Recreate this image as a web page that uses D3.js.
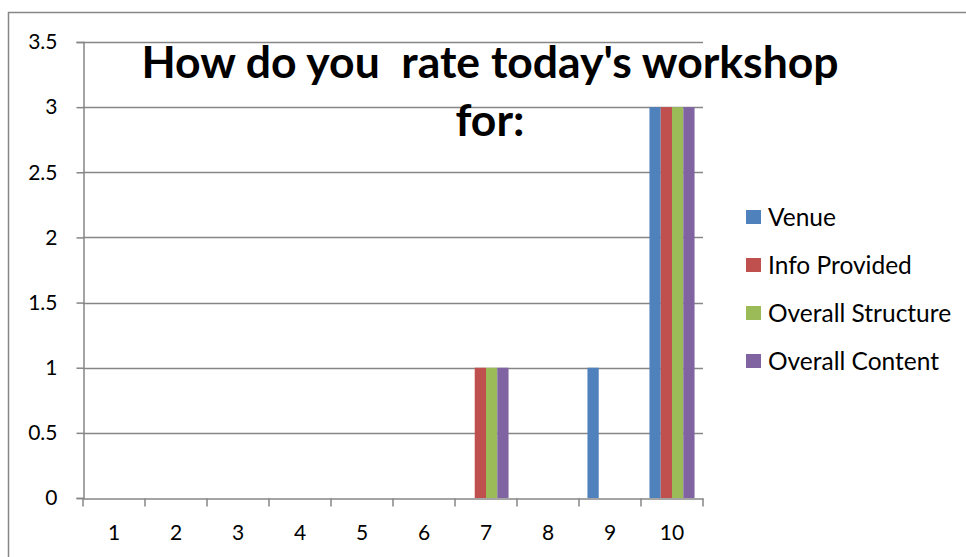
<!DOCTYPE html>
<html>
<head>
<meta charset="utf-8">
<script src="https://cdn.jsdelivr.net/npm/d3@7"></script>
<style>
  body { margin: 0; background: #fff; }
  svg text { font-family: Lato, "Open Sans", sans-serif; fill: #000; }
</style>
</head>
<body>
<svg id="chart" width="966" height="557"></svg>
<script>
// chart data
const categories = ["1", "2", "3", "4", "5", "6", "7", "8", "9", "10"];
const seriesNames = ["Venue", "Info Provided", "Overall Structure", "Overall Content"];
const venue = [0, 0, 0, 0, 0, 0, 0, 0, 1, 3];
const infoProvided = [0, 0, 0, 0, 0, 0, 1, 0, 0, 3];
const overallStructure = [0, 0, 0, 0, 0, 0, 1, 0, 0, 3];
const overallContent = [0, 0, 0, 0, 0, 0, 1, 0, 0, 3];
const yTicks = [0, 0.5, 1, 1.5, 2, 2.5, 3, 3.5];
const colors = ["#4F81BD", "#C0504D", "#9BBB59", "#8064A2"];
const titleLines = ["How do you  rate today's workshop", "for:"];

const allSeries = [venue, infoProvided, overallStructure, overallContent];

const svg = d3.select("#chart");
const plotLeft = 83, plotRight = 703, plotTop = 42, plotBottom = 498;
const gridColor = "#868686";

// outer chart border (right/bottom fall outside the window)
svg.append("rect")
  .attr("x", 8.5).attr("y", 12.5)
  .attr("width", 980).attr("height", 580)
  .attr("fill", "none")
  .attr("stroke", gridColor)
  .attr("stroke-width", 1.5);

const x = d3.scaleBand().domain(categories).range([plotLeft, plotRight]).padding(0);
// Excel-like gap width (~150%)
const x1 = d3.scaleBand().domain(seriesNames).range([0, x.bandwidth()])
  .paddingInner(0).paddingOuter(0.75);
const y = d3.scaleLinear().domain([0, 3.5]).range([plotBottom, plotTop]);

// gridlines
svg.append("g")
  .selectAll("line")
  .data(yTicks.filter(d => d > 0))
  .join("line")
  .attr("x1", plotLeft).attr("x2", plotRight)
  .attr("y1", d => Math.round(y(d)) + 0.5)
  .attr("y2", d => Math.round(y(d)) + 0.5)
  .attr("stroke", gridColor)
  .attr("stroke-width", 1.5);

// bars
const groups = svg.append("g")
  .selectAll("g")
  .data(categories)
  .join("g")
  .attr("transform", d => `translate(${x(d)},0)`);

groups.selectAll("rect")
  .data((d, i) => seriesNames.map((name, s) => ({ name, value: allSeries[s][i], color: colors[s] })))
  .join("rect")
  .attr("x", d => x1(d.name))
  .attr("width", x1.bandwidth())
  .attr("y", d => y(d.value))
  .attr("height", d => y(0) - y(d.value))
  .attr("fill", d => d.color);

// y axis
const yAxis = svg.append("g")
  .attr("transform", `translate(${plotLeft + 0.5},0)`)
  .call(d3.axisLeft(y).tickValues(yTicks).tickSize(7).tickPadding(19)
    .tickFormat(d => String(d)));
yAxis.select(".domain").attr("stroke", gridColor).attr("stroke-width", 1.5);
yAxis.selectAll(".tick line").attr("stroke", gridColor).attr("stroke-width", 1.5);
yAxis.selectAll(".tick text")
  .style("font-family", "Lato, 'Open Sans', sans-serif")
  .style("font-size", "21px")
  .attr("fill", "#000");

// x axis
const xAxis = svg.append("g")
  .attr("transform", `translate(0,${plotBottom + 0.5})`)
  .call(d3.axisBottom(x).tickSize(0).tickPadding(27));
xAxis.select(".domain").attr("stroke", gridColor).attr("stroke-width", 1.5);
xAxis.selectAll(".tick text")
  .style("font-family", "Lato, 'Open Sans', sans-serif")
  .style("font-size", "21px")
  .attr("fill", "#000");
// category boundary ticks
xAxis.append("g")
  .selectAll("line")
  .data(categories.concat(["end"]))
  .join("line")
  .attr("x1", (d, i) => i < categories.length ? x(d) : plotRight)
  .attr("x2", (d, i) => i < categories.length ? x(d) : plotRight)
  .attr("y1", 0).attr("y2", 8)
  .attr("stroke", gridColor)
  .attr("stroke-width", 1.5);

// title
svg.append("g")
  .selectAll("text")
  .data(titleLines)
  .join("text")
  .attr("x", 490)
  .attr("y", (d, i) => 78 + i * 58)
  .attr("text-anchor", "middle")
  .style("font-size", "44.5px")
  .style("font-weight", "bold")
  .style("white-space", "pre")
  .text(d => d);

// legend
const legend = svg.append("g")
  .selectAll("g")
  .data(seriesNames)
  .join("g")
  .attr("transform", (d, i) => `translate(746,${217 + i * 48})`);
legend.append("rect")
  .attr("x", 0).attr("y", -7)
  .attr("width", 15).attr("height", 14)
  .attr("fill", (d, i) => colors[i]);
legend.append("text")
  .attr("x", 22).attr("y", 0)
  .attr("dy", "0.36em")
  .style("font-size", "24.5px")
  .text(d => d);
</script>
</body>
</html>
